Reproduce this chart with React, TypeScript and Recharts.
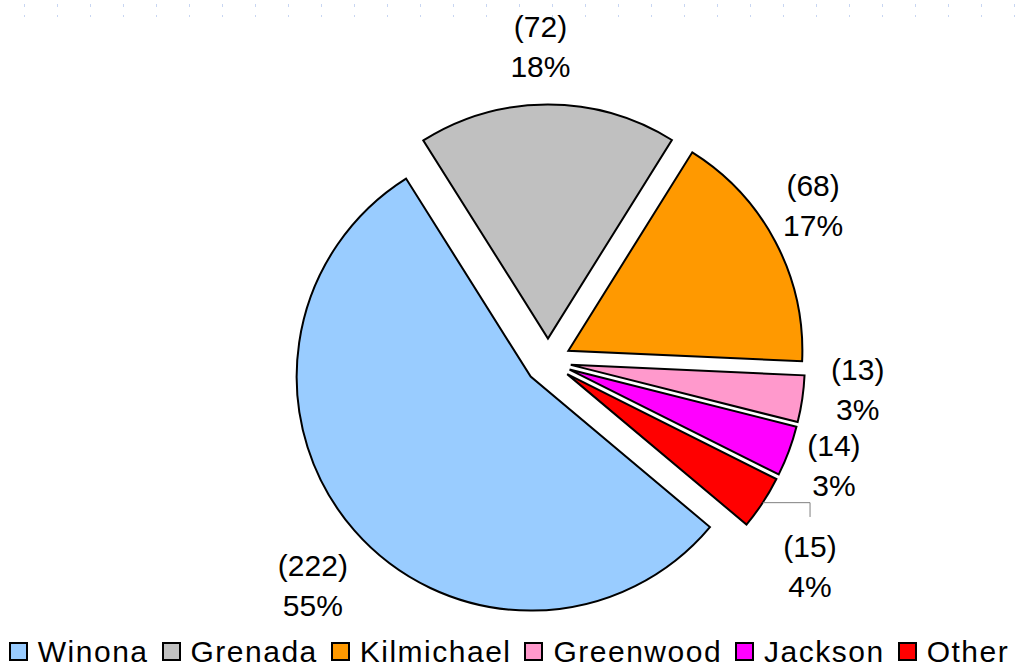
import React from 'react'
import { PieChart, Pie, Cell, Legend } from 'recharts'

// データ
const towns = ['Winona', 'Grenada', 'Kilmichael', 'Greenwood', 'Jackson', 'Other']
const counts = [222, 72, 68, 13, 14, 15]
const sliceColors = ['#99CCFF', '#C0C0C0', '#FF9900', '#FF99CC', '#FF00FF', '#FF0000']

const data = towns.map((name, i) => ({ name, value: counts[i] }))

const RADIAN = Math.PI / 180
const START = 320
const OUTER = 234
const EXPLODE = 23
const FONT = '"Liberation Sans", Arial, Helvetica, sans-serif'

// Excel's best-fit placement shifted a few labels
const labelNudge: [number, number][] = [
  [-6, 17],
  [-7, -2],
  [-4, -10],
  [9, -18],
  [1, -6],
  [8, 32],
]

const total = counts.reduce((s, v) => s + v, 0)
const midAngles = counts.map((v, i) => {
  const before = counts.slice(0, i).reduce((s, x) => s + x, 0)
  return START - 360 * ((before + v / 2) / total)
})

const explodeTransform = (i: number) => {
  const a = midAngles[i] * RADIAN
  const dx = EXPLODE * Math.cos(a)
  const dy = -EXPLODE * Math.sin(a)
  return `translate(${dx.toFixed(2)}px, ${dy.toFixed(2)}px)`
}

const renderLabel = (props: any) => {
  const { cx, cy, midAngle, value, percent, index } = props
  const ux = Math.cos(-midAngle * RADIAN)
  const uy = Math.sin(-midAngle * RADIAN)
  const d = OUTER + EXPLODE + 15
  const [nx, ny] = labelNudge[index] || [0, 0]
  const x = cx + d * ux + 32 * ux + nx
  const y = cy + d * uy + 42 * uy + ny
  const edgeX = cx + (OUTER + EXPLODE) * ux
  const edgeY = cy + (OUTER + EXPLODE) * uy
  return (
    <g>
      {index === 5 && (
        <polyline
          points={`${edgeX},${edgeY} ${x},${edgeY} ${x},${y - 49}`}
          fill="none"
          stroke="#808080"
          strokeWidth={1}
        />
      )}
      <text
        x={x}
        y={y}
        textAnchor="middle"
        fill="#000"
        fontFamily={FONT}
        fontSize={30}
      >
        <tspan x={x} y={y - 9}>{`(${value})`}</tspan>
        <tspan x={x} y={y + 31}>{`${Math.round(percent * 100)}%`}</tspan>
      </text>
    </g>
  )
}

const renderLegend = () => (
  <div
    style={{
      display: 'flex',
      justifyContent: 'center',
      alignItems: 'center',
      fontFamily: FONT,
      fontSize: 30,
      letterSpacing: 1.5,
      color: '#000',
      whiteSpace: 'nowrap',
      lineHeight: '29px',
      height: 29,
    }}
  >
    {towns.map((t, i) => (
      <div
        key={t}
        style={{ display: 'flex', alignItems: 'center', marginRight: i < towns.length - 1 ? 13 : 0 }}
      >
        <span
          style={{
            display: 'inline-block',
            width: 15,
            height: 15,
            background: sliceColors[i],
            border: '2px solid #000',
            marginRight: 10,
          }}
        />
        <span>{t}</span>
      </div>
    ))}
  </div>
)

export default function App() {
  return (
    <div style={{ position: 'absolute', left: 0, top: 0, width: 1018, height: 666, background: '#fff' }}>
      <svg width={1018} height={22} style={{ position: 'absolute', left: 0, top: 0 }}>
        <line x1={24} x2={1018} y1={5.5} y2={5.5} stroke="#C8D6F2" strokeWidth={3} strokeDasharray="1 32" />
        <line x1={24} x2={1018} y1={16} y2={16} stroke="#C8D6F2" strokeWidth={2} strokeDasharray="1 32" />
      </svg>
      <PieChart
        width={1018}
        height={666}
        margin={{ top: 0, right: 0, bottom: 0, left: 0 }}
        style={{ position: 'absolute', left: 0, top: 0 }}
      >
        <Pie
          data={data}
          dataKey="value"
          nameKey="name"
          cx={548}
          cy={361.5}
          outerRadius={OUTER}
          startAngle={START}
          endAngle={START - 360}
          stroke="#000"
          strokeWidth={2}
          label={renderLabel}
          labelLine={false}
          isAnimationActive={false}
        >
          {data.map((entry, i) => (
            <Cell
              key={`cell-${entry.name}`}
              fill={sliceColors[i]}
              style={{ transform: explodeTransform(i) }}
            />
          ))}
        </Pie>
        <Legend
          content={renderLegend}
          wrapperStyle={{ left: 0, top: 637, width: 1018, height: 29 }}
        />
      </PieChart>
    </div>
  )
}
